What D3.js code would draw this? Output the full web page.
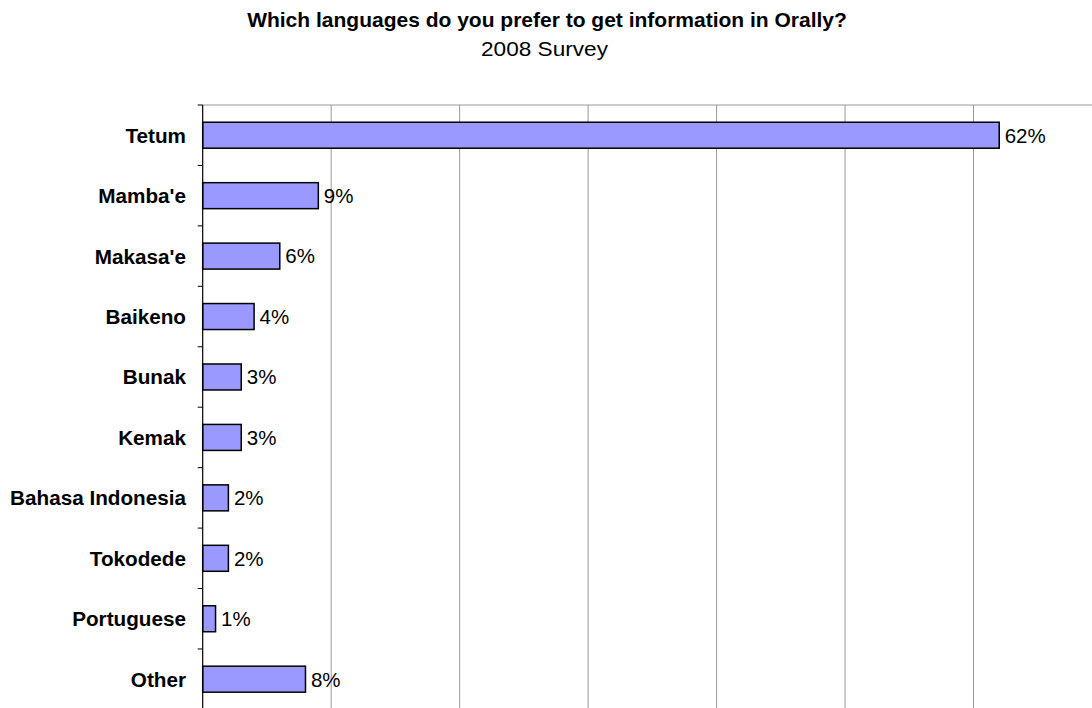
<!DOCTYPE html>
<html><head><meta charset="utf-8">
<script src="https://cdn.jsdelivr.net/npm/d3@7"></script>
<style>body{margin:0;background:#fff;}svg{display:block;font-family:"Liberation Sans",Arial,sans-serif;}</style>
</head><body>
<svg id="c" width="1092" height="708"></svg>
<script>
const categories = ["Tetum","Mamba'e","Makasa'e","Baikeno","Bunak","Kemak","Bahasa Indonesia","Tokodede","Portuguese","Other"];
const values = [62,9,6,4,3,3,2,2,1,8];
const xTicks = [0,10,20,30,40,50,60,70];
const title = "Which languages do you prefer to get information in Orally?";
const subtitle = "2008 Survey";

const svg = d3.select("#c");
const pLeft = 202.7, pRight = 1102, pTop = 105, pBottom = 709.4;
const x = d3.scaleLinear().domain([0,70]).range([pLeft,pRight]);
const y = d3.scaleBand().domain(categories).range([pTop,pBottom]).paddingInner(0.57).paddingOuter(0.285);
const band = d3.scaleBand().domain(categories).range([pTop,pBottom]);

// gridlines
svg.append("g").selectAll("line").data(xTicks.filter(d=>d>0)).join("line")
  .attr("x1",d=>x(d)).attr("x2",d=>x(d)).attr("y1",pTop).attr("y2",pBottom)
  .attr("stroke","#999").attr("stroke-width",1);
// top border
svg.append("line").attr("x1",pLeft).attr("x2",pRight).attr("y1",pTop).attr("y2",pTop)
  .attr("stroke","#999").attr("stroke-width",1);

// bars
svg.append("g").selectAll("rect").data(values).join("rect")
  .attr("x",x(0)).attr("y",(d,i)=>y(categories[i]))
  .attr("width",d=>x(d)-x(0)).attr("height",y.bandwidth())
  .attr("fill","#9999ff").attr("stroke","#000").attr("stroke-width",1.5);

// value labels
svg.append("g").selectAll("text").data(values).join("text")
  .attr("x",d=>x(d)+5.5).attr("y",(d,i)=>band(categories[i])+band.bandwidth()/2)
  .attr("dy","0.36em").attr("font-size",20.5).attr("fill","#000")
  .text(d=>d+"%");

// left axis
svg.append("line").attr("x1",pLeft).attr("x2",pLeft).attr("y1",pTop).attr("y2",pBottom)
  .attr("stroke","#000").attr("stroke-width",1.2);
const bounds = categories.map(c=>band(c)).concat([pBottom]);
svg.append("g").selectAll("line").data(bounds).join("line")
  .attr("x1",pLeft-5).attr("x2",pLeft).attr("y1",d=>d).attr("y2",d=>d)
  .attr("stroke","#000").attr("stroke-width",1);

// category labels
svg.append("g").selectAll("text").data(categories).join("text")
  .attr("x",186).attr("y",d=>band(d)+band.bandwidth()/2).attr("dy","0.36em")
  .attr("text-anchor","end").attr("font-weight","bold").attr("font-size",20.7)
  .text(d=>d);

svg.append("text").attr("x",547).attr("y",27).attr("text-anchor","middle")
  .attr("font-weight","bold").attr("font-size",21).text(title);
svg.append("text").attr("x",544.5).attr("y",56).attr("text-anchor","middle")
  .attr("font-size",21).attr("textLength",127).attr("lengthAdjust","spacingAndGlyphs").text(subtitle);
</script>
</body></html>
